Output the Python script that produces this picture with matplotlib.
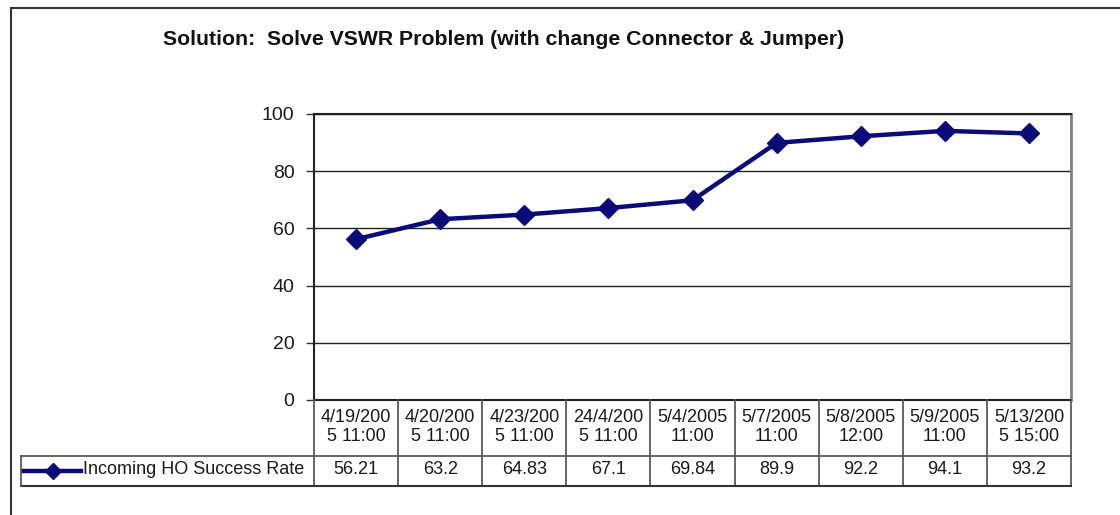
import matplotlib
matplotlib.use("Agg")
import matplotlib.pyplot as plt
from matplotlib.lines import Line2D
from matplotlib.transforms import blended_transform_factory

plt.rcParams['font.family'] = ['Liberation Sans', 'DejaVu Sans']

title = "Solution:  Solve VSWR Problem (with change Connector & Jumper)"
series_name = "Incoming HO Success Rate"
categories = [
    "4/19/200\n5 11:00", "4/20/200\n5 11:00", "4/23/200\n5 11:00",
    "24/4/200\n5 11:00", "5/4/2005\n11:00", "5/7/2005\n11:00",
    "5/8/2005\n12:00", "5/9/2005\n11:00", "5/13/200\n5 15:00",
]
values = [56.21, 63.2, 64.83, 67.1, 69.84, 89.9, 92.2, 94.1, 93.2]
value_labels = ["56.21", "63.2", "64.83", "67.1", "69.84", "89.9", "92.2", "94.1", "93.2"]
yticks = [0, 20, 40, 60, 80, 100]

W, H = 1120, 515
fig = plt.figure(figsize=(W / 100, H / 100), dpi=100)
fig.patch.set_facecolor("white")

def fx(px):
    return px / W

def fy(py):
    return 1 - py / H

# plot area
left_px, right_px, top_px, bot_px = 314, 1071, 114, 400
ax = fig.add_axes([fx(left_px), fy(bot_px), fx(right_px - left_px), (bot_px - top_px) / H])
n = len(values)
xs = list(range(n))
line_col = "#0a0a78"
ax.plot(xs, values, color=line_col, lw=3.2, marker="D", markersize=10,
        markerfacecolor=line_col, markeredgecolor=line_col, zorder=3, clip_on=False)
ax.set_xlim(-0.5, n - 0.5)
ax.set_ylim(0, 100)
ax.set_yticks(yticks)
ax.set_yticklabels([str(t) for t in yticks], fontsize=14, color="#1a1a1a")
ax.tick_params(axis="y", direction="out", length=6, width=1, color="#333333", pad=8)
ax.set_xticks([])
for t in yticks[1:]:
    ax.axhline(t, color="#222222", lw=1.0, zorder=1)
for side in ["top", "bottom", "left"]:
    ax.spines[side].set_color("#222222")
    ax.spines[side].set_linewidth(1.5)
ax.spines["right"].set_color("#808080")
ax.spines["right"].set_linewidth(2.0)

# data table under the plot
tr = blended_transform_factory(ax.transData, fig.transFigure)
row1_bot = fy(456)
row2_bot = fy(486)
tab_top = fy(bot_px)
edge = "#5a5a5a"
for i in range(n + 1):
    x = i - 0.5
    fig.add_artist(Line2D([x, x], [row2_bot, tab_top], transform=tr, color=edge, lw=1.3))
# legend cell on the left
fig.add_artist(Line2D([fx(21), fx(right_px)], [row1_bot, row1_bot], color=edge, lw=1.3))
fig.add_artist(Line2D([fx(21), fx(right_px)], [row2_bot, row2_bot], color="#333333", lw=1.5))
fig.add_artist(Line2D([fx(21), fx(21)], [row2_bot, row1_bot], color=edge, lw=1.3))
for i in range(n):
    fig.text(i, fy(427), categories[i], transform=tr, ha="center",
             va="center", fontsize=13, color="#1a1a1a", linespacing=1.15)
    fig.text(i, fy(470), value_labels[i], transform=tr, ha="center",
             va="center", fontsize=13, color="#1a1a1a")

# legend key
key_y = fy(471)
fig.add_artist(Line2D([fx(24), fx(81)], [key_y, key_y], color=line_col, lw=3.2))
fig.add_artist(Line2D([fx(52.5)], [key_y], color=line_col, marker="D", markersize=8,
                      markerfacecolor=line_col, markeredgecolor=line_col, lw=0))
fig.text(fx(83), fy(470), series_name, ha="left", va="center", fontsize=13, color="#1a1a1a")

# title
fig.text(fx(503.5), fy(45), title, ha="center", va="baseline", fontsize=15.3,
         fontweight="bold", color="#111111")

# outer frame
fig.add_artist(Line2D([fx(11), 1.0], [fy(8), fy(8)], color="#333333", lw=1.5))
fig.add_artist(Line2D([fx(11), fx(11)], [fy(8), 0.0], color="#333333", lw=1.5))

fig.savefig("out.png", dpi=100, facecolor="white")
